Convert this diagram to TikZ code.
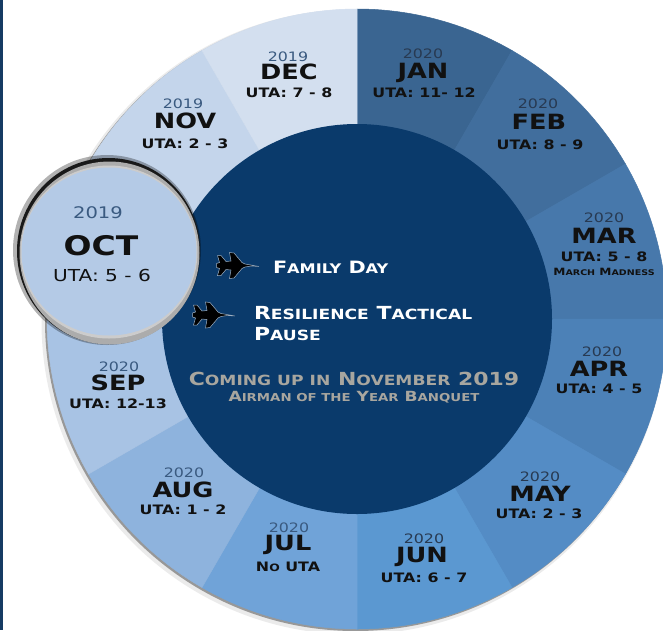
\documentclass[tikz,border=0pt]{standalone}
\usepackage{fontspec}
\usetikzlibrary{calc}
\newfontfamily\cop{DejaVu Sans}[FakeStretch=1.22]
\makeatletter
\newcommand\lo[1]{{\fontsize{\strip@pt\dimexpr0.78\dimexpr\f@size pt\relax\relax}{0}\selectfont#1}}
\makeatother
\definecolor{cDEC}{HTML}{D3DFEF}
\definecolor{cNOV}{HTML}{C4D5EB}
\definecolor{cOCT}{HTML}{B4CAE6}
\definecolor{cSEP}{HTML}{A8C3E4}
\definecolor{cAUG}{HTML}{8EB3DD}
\definecolor{cJUL}{HTML}{70A3D8}
\definecolor{cJUN}{HTML}{5B98D1}
\definecolor{cMAY}{HTML}{548CC5}
\definecolor{cAPR}{HTML}{4C81B7}
\definecolor{cMAR}{HTML}{4778AB}
\definecolor{cFEB}{HTML}{416E9D}
\definecolor{cJAN}{HTML}{3A6591}
\definecolor{navy}{HTML}{0A3A6B}
\definecolor{border}{HTML}{163B63}
\definecolor{yearc}{HTML}{3A5A80}
\definecolor{yeard}{HTML}{283A52}
\definecolor{txtc}{HTML}{111111}
\definecolor{greyc}{HTML}{A8A69F}
\newcommand\seg[3]{\filldraw[#1,line width=0.5pt] (357,319) -- plot[domain=#2:#3, samples=40] ({357+310*cos(\x)},{319-310*sin(\x)}) -- cycle;}
\begin{document}
\begin{tikzpicture}[x=1pt,y=-1pt,
  every node/.style={inner sep=0pt, outer sep=0pt},
  yr/.style={font=\cop\fontsize{13}{13}\selectfont, text=yearc},
  yrd/.style={yr, text=yeard},
  mo/.style={font=\cop\bfseries\fontsize{21}{21}\selectfont, text=txtc},
  uta/.style={font=\cop\bfseries\fontsize{13}{13}\selectfont, text=txtc},
  ctr/.style={font=\cop\bfseries\fontsize{18}{18}\selectfont, text=white, anchor=west},
  grey/.style={font=\cop\bfseries\fontsize{18}{18}\selectfont, text=greyc},
  jetshape/.style={fill=black, draw=white!60!navy, line width=0.5pt}]
\clip (0,0) rectangle (663,630);
\fill[white] (0,0) rectangle (663,630);
\fill[border] (0,0) rectangle (2.5,630);
\coordinate (O) at (357,319);
% ring shadow
\fill[black,opacity=0.08] ($(O)+(-3,3)$) circle (312.5);
\fill[black,opacity=0.35] ($(O)+(-1.5,1.5)$) circle (310.5);
% ring segments
\seg{cJAN}{60}{90}
\seg{cFEB}{30}{60}
\seg{cMAR}{0}{30}
\seg{cAPR}{-30}{0}
\seg{cMAY}{-60}{-30}
\seg{cJUN}{-90}{-60}
\seg{cJUL}{-120}{-90}
\seg{cAUG}{-150}{-120}
\seg{cSEP}{-180}{-150}
\seg{cOCT}{150}{180}
\seg{cNOV}{120}{150}
\seg{cDEC}{90}{120}
% inner disc
\fill[navy] (O) circle (195);
% month labels
\node[yr] (decy) at (288,57) {2019};
\node[mo] (decm) at (289,72) {DEC};
\node[uta] (decu) at (289,93) {UTA: 7 - 8};
\node[yr] (novy) at (183,104) {2019};
\node[mo] (novm) at (185,121) {NOV};
\node[uta] (novu) at (185,144) {UTA: 2 - 3};
\node[yr] (sepy) at (119,367) {2020};
\node[mo] (sepm) at (118,383) {SEP};
\node[uta] (sepu) at (118,404) {UTA: 12-13};
\node[yr] (augy) at (184,473) {2020};
\node[mo] (augm) at (183,490) {AUG};
\node[uta] (augu) at (183,510) {UTA: 1 - 2};
\node[yr] (july) at (289,528) {2020};
\node[mo] (julm) at (288,545) {JUL};
\node[uta] (julu) at (288,567) {N\lo{O} UTA};
\node[yrd] (juny) at (424,539) {2020};
\node[mo] (junm) at (422,557) {JUN};
\node[uta] (junu) at (424,578) {UTA: 6 - 7};
\node[yrd] (mayy) at (540,477) {2020};
\node[mo] (maym) at (540,494) {MAY};
\node[uta] (mayu) at (539,514) {UTA: 2 - 3};
\node[yrd] (apry) at (602,352) {2020};
\node[mo] (aprm) at (599,369) {APR};
\node[uta] (apru) at (599,389) {UTA: 4 - 5};
\node[yrd] (mary) at (604,218) {2020};
\node[mo] (marm) at (604,236) {MAR};
\node[uta] (maru) at (604,257) {UTA: 5 - 8};
\node[uta, font=\cop\bfseries\fontsize{10}{10}\selectfont] (marn) at (604,272) {M\lo{ARCH} M\lo{ADNESS}};
\node[yrd] (feby) at (538,104) {2020};
\node[mo] (febm) at (539,122) {FEB};
\node[uta] (febu) at (540,145) {UTA: 8 - 9};
\node[yrd] (jany) at (423,54) {2020};
\node[mo] (janm) at (423,73) {JAN};
\node[uta] (janu) at (424,93) {UTA: 11- 12};
% centre texts
\node[ctr, font=\cop\bfseries\fontsize{17}{17}\selectfont] (fam) at (273,267) {F\lo{AMILY} D\lo{AY}};
\node[ctr] (res) at (254,313) {R\lo{ESILIENCE} T\lo{ACTICAL}};
\node[ctr] (pau) at (254,334) {P\lo{AUSE}};
\node[grey] (com) at (354,379) {C\lo{OMING UP IN} N\lo{OVEMBER} 2019};
\node[grey, font=\cop\bfseries\fontsize{14}{14}\selectfont] (air) at (354,397) {A\lo{IRMAN OF THE} Y\lo{EAR} B\lo{ANQUET}};
% jets
\foreach \jx/\jy in {238/266.5, 214/316}{
\fill[jetshape] (\jx,\jy) ++(21,0) -- ++(-8,-1.5) -- ++(-6,-1) -- ++(-3,-1.5) -- ++(-8,-9.5) -- ++(-4.5,-0.5) -- ++(1.5,8.5) -- ++(-5,0.5) -- ++(-5,-6) -- ++(-3.5,0) -- ++(2,7) -- ++(-3,1) -- ++(0,4) -- ++(3,1) -- ++(-2,7) -- ++(3.5,0) -- ++(5,-6) -- ++(5,0.5) -- ++(-1.5,8.5) -- ++(4.5,-0.5) -- ++(8,-9.5) -- ++(3,-1.5) -- ++(6,-1) -- cycle;
}
% magnifier lens
\fill[black,opacity=0.3] (107,250) ellipse[x radius=94, y radius=95];
\fill[black!90] (108.5,251) ellipse[x radius=91.5, y radius=93];
\fill[gray!65] (109.5,253) ellipse[x radius=90, y radius=91.5];
\fill[gray!40] (109,252) ellipse[x radius=88.5, y radius=86.5];
\fill[cOCT] (109,251.5) ellipse[x radius=87.5, y radius=84];
\node[yr, font=\cop\fontsize{16}{16}\selectfont] (octy) at (98,213) {2019};
\node[mo, font=\cop\bfseries\fontsize{27}{27}\selectfont] (octm) at (101,246) {OCT};
\node[uta, font=\cop\fontsize{16.5}{16.5}\selectfont] (octu) at (102,275) {UTA: 5 - 6};
\end{tikzpicture}
\end{document}
